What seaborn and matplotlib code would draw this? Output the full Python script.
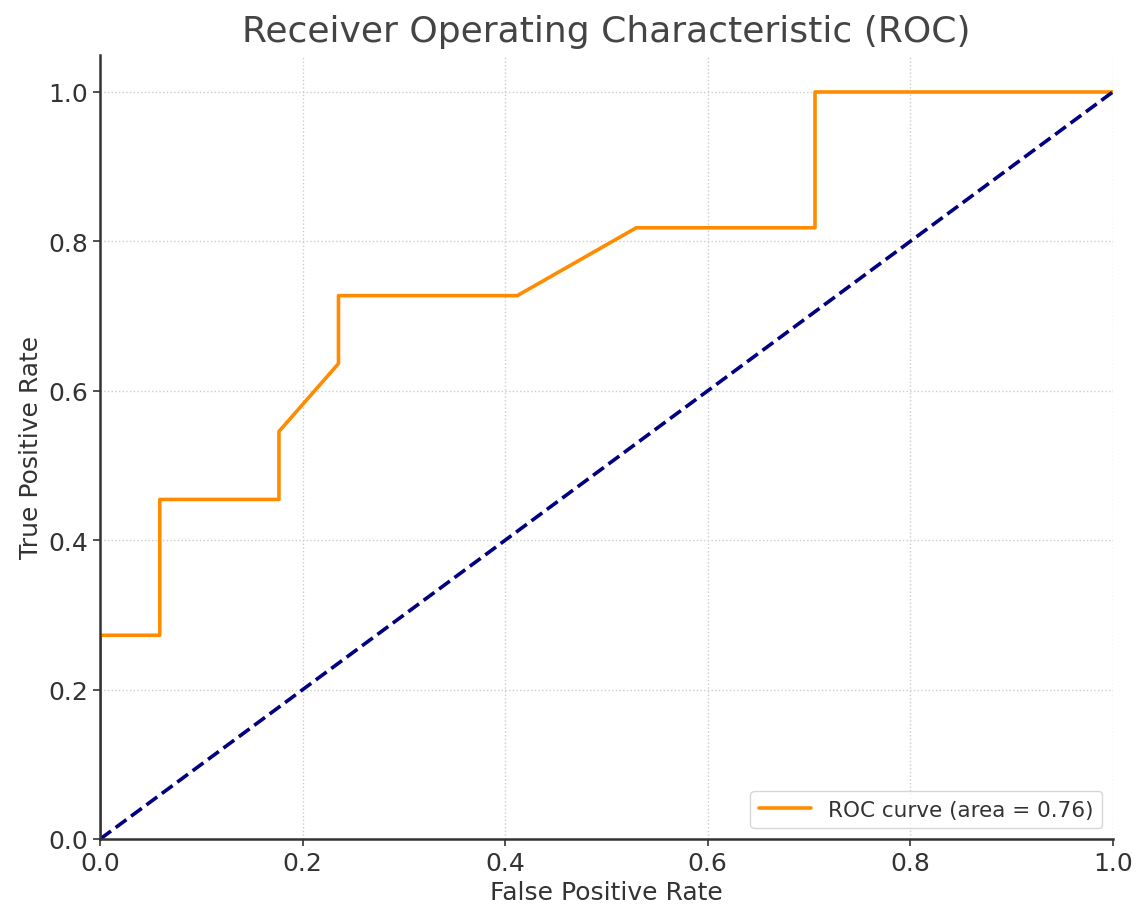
import pandas as pd
import matplotlib.pyplot as plt
import seaborn as sns

fpr = [0.0, 0.0, 0.0588, 0.0588, 0.1765, 0.1765, 0.2353, 0.2353, 0.4118, 0.5294, 0.7059, 0.7059, 1.0]
tpr = [0.0, 0.2727, 0.2727, 0.4545, 0.4545, 0.5455, 0.6364, 0.7273, 0.7273, 0.8182, 0.8182, 1.0, 1.0]
chance = [0.0, 1.0]
roc_auc = 0.76


def main():
    sns.set_style("white")
    plt.rcParams['font.family'] = ['DejaVu Sans']
    text_color = '#333333'

    fig = plt.figure(figsize=(11.39, 9.12), dpi=100)
    ax = fig.add_axes([0.088, 0.079, 0.889, 0.860])

    roc = pd.DataFrame({'fpr': fpr, 'tpr': tpr})
    sns.lineplot(data=roc, x='fpr', y='tpr', sort=False, estimator=None,
                 color='darkorange', lw=2.6, ax=ax,
                 label='ROC curve (area = %0.2f)' % roc_auc)
    sns.lineplot(x=chance, y=chance, color='navy', lw=2.6, ax=ax)
    ax.lines[-1].set_linestyle('--')

    ax.set_xlim(0.0, 1.0)
    ax.set_ylim(0.0, 1.05)
    ax.grid(True, linestyle=':', color='#cccccc', lw=1)
    for s in ['top', 'right']:
        ax.spines[s].set_visible(False)
    for s in ['left', 'bottom']:
        ax.spines[s].set_color(text_color)
        ax.spines[s].set_linewidth(1.8)
    ax.tick_params(axis='both', labelsize=18, colors=text_color, length=5,
                   width=1.2, direction='out', bottom=True, left=True)

    ax.set_xlabel('False Positive Rate', fontsize=18, color=text_color)
    ax.set_ylabel('True Positive Rate', fontsize=18, color=text_color)
    ax.set_title('Receiver Operating Characteristic (ROC)', fontsize=26, color='#444444', pad=10)
    leg = ax.legend(loc='lower right', fontsize=15.5, frameon=True, handlelength=2.4)
    for t in leg.get_texts():
        t.set_color(text_color)

    fig.savefig('out.png', dpi=100)


if __name__ == "__main__":
    main()
